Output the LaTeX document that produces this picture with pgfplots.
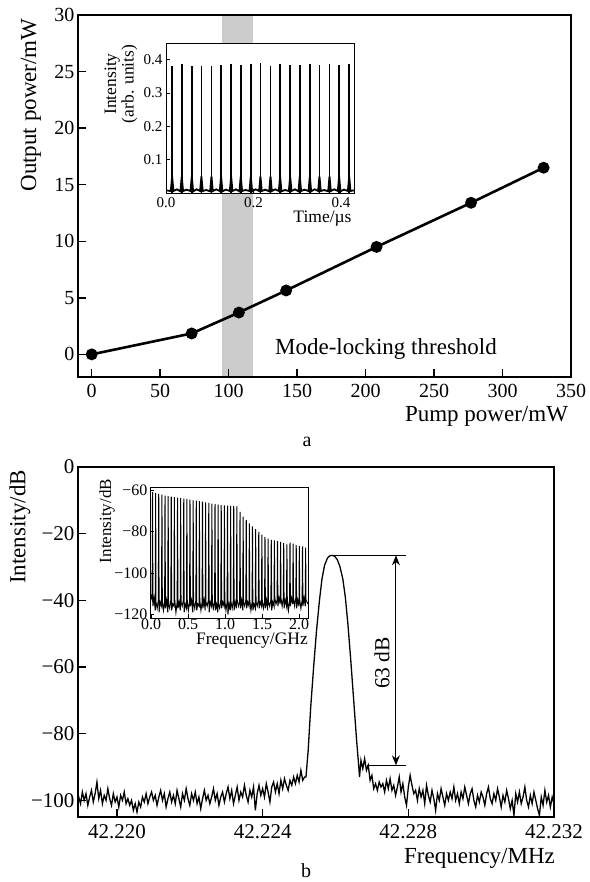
\documentclass[border=0pt]{standalone}
\usepackage{fontspec}
\setmainfont{Liberation Serif}
\usepackage{pgfplots}
\pgfplotsset{compat=1.18}
\usetikzlibrary{arrows.meta}

\newcommand{\fs}[1]{\fontsize{#1}{#1}\selectfont}

\pgfplotsset{
  panel/.style={scale only axis, anchor=south west, axis on top,
    axis line style={line width=1.4pt}, tick style={line width=1.4pt, black},
    tick align=inside, major tick length=8pt, xtick pos=bottom, ytick pos=left,
    /pgf/number format/assume math mode=true},
  inset/.style={scale only axis, anchor=south west,
    axis background/.style={fill=white},
    axis line style={line width=0.9pt}, tick style={line width=0.9pt, black},
    tick align=inside, major tick length=4pt, xtick pos=bottom, ytick pos=left,
    /pgf/number format/assume math mode=true},
}

\begin{document}
\begin{tikzpicture}[x=1pt,y=1pt]
\path[use as bounding box] (0,0) rectangle (589,-882);

% ---------- panel a ----------
\begin{axis}[panel, at={(78pt,-377pt)}, width=493pt, height=362pt,
  xmin=-10, xmax=350, ymin=-2, ymax=30,
  xtick={0,50,...,350}, ytick={0,5,...,30},
  tick label style={font=\fs{20}}, xticklabel style={yshift=-4pt}]
\addplot[draw=none, fill=black!20] coordinates {(95,-2) (118,-2) (118,30) (95,30)};
\addplot[black, line width=2.6pt, mark=*, mark size=4.6pt]
  coordinates {(0,0) (73,1.85) (107.5,3.7) (142,5.65) (208,9.5) (277,13.4) (330,16.5)};
\end{axis}

\begin{axis}[inset, at={(166pt,-193pt)}, width=188pt, height=150pt,
  xmin=0, xmax=0.43, ymin=0, ymax=0.45,
  xtick={0,0.2,0.4}, xticklabels={0.0,0.2,0.4},
  ytick={0.1,0.2,0.3,0.4}, yticklabels={0.1,0.2,0.3,0.4},
  tick label style={font=\fs{15}}, xticklabel style={yshift=-1pt}]
\addplot[ycomb, black, line width=1.6pt] coordinates {
  (0.014,0.382) (0.036,0.388) (0.059,0.382) (0.081,0.382) (0.104,0.380)
  (0.126,0.384) (0.149,0.387) (0.171,0.384) (0.194,0.387) (0.216,0.390)
  (0.239,0.380) (0.261,0.388) (0.284,0.384) (0.306,0.384) (0.329,0.386)
  (0.351,0.385) (0.374,0.388) (0.396,0.385) (0.419,0.387)};
\addplot[black, line width=1.8pt] coordinates {
  (0,0.008) (0.011,0.006) (0.014,0.05) (0.017,0.006) (0.025,0.011)
  (0.033,0.005) (0.036,0.05) (0.039,0.006) (0.047,0.010)
  (0.056,0.006) (0.059,0.05) (0.062,0.005) (0.070,0.011)
  (0.078,0.006) (0.081,0.05) (0.084,0.006) (0.092,0.009)
  (0.101,0.005) (0.104,0.05) (0.107,0.006) (0.115,0.011)
  (0.123,0.006) (0.126,0.05) (0.129,0.005) (0.137,0.010)
  (0.146,0.006) (0.149,0.05) (0.152,0.006) (0.160,0.011)
  (0.168,0.005) (0.171,0.05) (0.174,0.006) (0.182,0.009)
  (0.191,0.006) (0.194,0.05) (0.197,0.005) (0.205,0.011)
  (0.213,0.006) (0.216,0.05) (0.219,0.006) (0.227,0.010)
  (0.236,0.005) (0.239,0.05) (0.242,0.006) (0.250,0.011)
  (0.258,0.006) (0.261,0.05) (0.264,0.005) (0.272,0.009)
  (0.281,0.006) (0.284,0.05) (0.287,0.006) (0.295,0.011)
  (0.303,0.005) (0.306,0.05) (0.309,0.006) (0.317,0.010)
  (0.326,0.006) (0.329,0.05) (0.332,0.005) (0.340,0.011)
  (0.348,0.006) (0.351,0.05) (0.354,0.006) (0.362,0.009)
  (0.371,0.005) (0.374,0.05) (0.377,0.006) (0.385,0.011)
  (0.393,0.006) (0.396,0.05) (0.399,0.005) (0.407,0.010)
  (0.416,0.006) (0.419,0.05) (0.422,0.006) (0.43,0.008)};
\end{axis}

\node[font=\fs{23}, rotate=90] at (31,-105) {Output power/mW};
\node[font=\fs{23}] at (486.5,-416) {Pump power/mW};
\node[font=\fs{23}] at (386,-349) {Mode-locking threshold};
\node[font=\fs{17.5}, rotate=90, align=center] at (121,-84)
  {\fontsize{17.5}{15}\selectfont Intensity\\(arb. units)};
\node[font=\fs{17.5}, inner sep=1pt] at (322.5,-219) {Time/µs};
\node[font=\fs{20}] at (307,-442) {a};

% ---------- panel b ----------
\begin{axis}[panel, at={(78pt,-817pt)}, width=476pt, height=350pt,
  xmin=-1.07, xmax=12, ymin=-105, ymax=0,
  xtick={0,4,8,12}, xticklabels={42.220,42.224,42.228,42.232},
  ytick={-100,-80,-60,-40,-20,0}, yticklabels={−100,−80,−60,−40,−20,0},
  tick label style={font=\fs{21}}, xticklabel style={yshift=-4pt}]
\addplot[black, line width=1.3pt] coordinates {
  (-1.07,-98) (-1.05,-99) (-1.00,-101) (-0.95,-97.5) (-0.90,-100) (-0.85,-98)
  (-0.80,-101.5) (-0.75,-99) (-0.70,-97) (-0.65,-100.5) (-0.60,-98) (-0.55,-94.5)
  (-0.50,-99.5) (-0.45,-97) (-0.40,-101) (-0.35,-98.5) (-0.30,-100) (-0.25,-96.5)
  (-0.20,-99.5) (-0.15,-101.5) (-0.10,-98) (-0.05,-100.5) (0.00,-99) (0.05,-102)
  (0.10,-98.5) (0.15,-100) (0.20,-97.5) (0.25,-101) (0.30,-99.5) (0.35,-101.5)
  (0.40,-100) (0.45,-103) (0.50,-101) (0.55,-103.5) (0.60,-100.5) (0.65,-102)
  (0.70,-99) (0.75,-100.5) (0.80,-98) (0.85,-101) (0.90,-99) (0.95,-97.5)
  (1.00,-100) (1.05,-98.5) (1.10,-101.5) (1.15,-99) (1.20,-97) (1.25,-100)
  (1.30,-98) (1.35,-102) (1.40,-99.5) (1.45,-97.5) (1.50,-100.5) (1.55,-98.5)
  (1.60,-101) (1.65,-97) (1.70,-99.5) (1.75,-102) (1.80,-98) (1.85,-100)
  (1.90,-96.5) (1.95,-99.5) (2.00,-101.5) (2.05,-98) (2.10,-100) (2.15,-97.5)
  (2.20,-101) (2.25,-99) (2.30,-102.5) (2.35,-99.5) (2.40,-97) (2.45,-100)
  (2.50,-98.5) (2.55,-101) (2.60,-99) (2.65,-96.5) (2.70,-100) (2.75,-98)
  (2.80,-101.5) (2.85,-99) (2.90,-97.5) (2.95,-100.5) (3.00,-98) (3.05,-96)
  (3.10,-99.5) (3.15,-97) (3.20,-101) (3.25,-98.5) (3.30,-96) (3.35,-100)
  (3.40,-97.5) (3.45,-99) (3.50,-95.5) (3.55,-98.5) (3.60,-100.5) (3.65,-97)
  (3.70,-99) (3.75,-96) (3.80,-103) (3.85,-98) (3.90,-95.5) (3.95,-98.5)
  (4.00,-96.5) (4.05,-99) (4.10,-95) (4.15,-97.5) (4.20,-100.5) (4.25,-96)
  (4.30,-94.5) (4.35,-97.5) (4.40,-95) (4.45,-98) (4.50,-94) (4.55,-96.5)
  (4.60,-93.5) (4.65,-95.5) (4.70,-97) (4.75,-94) (4.80,-95.5) (4.85,-93)
  (4.90,-95) (4.95,-92.5) (5.00,-94.5) (5.05,-91) (5.10,-94) (5.15,-93)
  (5.19,-93) (5.25,-85) (5.32,-72) (5.40,-60) (5.48,-49) (5.56,-40)
  (5.63,-33.5) (5.70,-29.5) (5.78,-27.3) (5.85,-26.6) (5.91,-26.5) (5.98,-26.8)
  (6.05,-27.8) (6.12,-29.8) (6.20,-33.5) (6.27,-39) (6.34,-47) (6.42,-58)
  (6.50,-70) (6.58,-82) (6.64,-90) (6.66,-93)
  (6.70,-88) (6.75,-90.5) (6.80,-87.5) (6.85,-91) (6.90,-89.5) (6.95,-94)
  (7.00,-92.5) (7.05,-96.5) (7.10,-95) (7.15,-97) (7.20,-94.5) (7.25,-96)
  (7.30,-95) (7.35,-97.5) (7.40,-94) (7.45,-96.5) (7.50,-93.5) (7.55,-97)
  (7.60,-95.5) (7.65,-98.5) (7.70,-96) (7.75,-93) (7.80,-97.5) (7.85,-95)
  (7.90,-99) (7.95,-101.5) (8.00,-96) (8.05,-92.5) (8.10,-95.5) (8.15,-98)
  (8.20,-97) (8.25,-100) (8.30,-96.5) (8.35,-99) (8.40,-97) (8.45,-101)
  (8.50,-95.5) (8.55,-98.5) (8.60,-100.5) (8.65,-97) (8.70,-99.5) (8.75,-103)
  (8.80,-98) (8.85,-100) (8.90,-96.5) (8.95,-99) (9.00,-101.5) (9.05,-98)
  (9.10,-100) (9.15,-97.5) (9.20,-99.5) (9.25,-96) (9.30,-100) (9.35,-98)
  (9.40,-101) (9.45,-97.5) (9.50,-99.5) (9.55,-96) (9.60,-98.5) (9.65,-101)
  (9.70,-98) (9.75,-96.5) (9.80,-100) (9.85,-102) (9.90,-98.5) (9.95,-100.5)
  (10.00,-97.5) (10.05,-99) (10.10,-101.5) (10.15,-98) (10.20,-96) (10.25,-99.5)
  (10.30,-101) (10.35,-98) (10.40,-100) (10.45,-96.5) (10.50,-99) (10.55,-102)
  (10.60,-98.5) (10.65,-100.5) (10.70,-97) (10.75,-99.5) (10.80,-102.5) (10.85,-100)
  (10.90,-104.5) (10.95,-98) (11.00,-100.5) (11.05,-97.5) (11.10,-101) (11.15,-99)
  (11.20,-96) (11.25,-100) (11.30,-102) (11.35,-98.5) (11.40,-101) (11.45,-97.5)
  (11.50,-100) (11.55,-102.5) (11.60,-104.5) (11.65,-99) (11.70,-101.5) (11.75,-97)
  (11.80,-100.5) (11.85,-98.5) (11.90,-102) (11.95,-99) (12.00,-101)};
\draw[line width=0.9pt] (axis cs:5.91,-26.5) -- (axis cs:7.94,-26.5);
\draw[line width=0.9pt] (axis cs:6.87,-89.5) -- (axis cs:7.94,-89.5);
\draw[line width=0.9pt, {Stealth[length=10pt,width=8pt]}-{Stealth[length=10pt,width=8pt]}]
  (axis cs:7.66,-26.5) -- (axis cs:7.66,-89.5);
\end{axis}

\begin{axis}[inset, at={(150pt,-618pt)}, width=158pt, height=131pt,
  xmin=-0.014, xmax=2.12, ymin=-121.7, ymax=-58.5,
  xtick={0,0.5,1,1.5,2}, xticklabels={0.0,0.5,1.0,1.5,2.0},
  ytick={-120,-100,-80,-60}, yticklabels={−120,−100,−80,−60},
  tick label style={font=\fs{16}}, xticklabel style={yshift=3pt},
  yticklabel style={xshift=1pt}]
\addplot[black, line width=1pt] coordinates {
  (-0.014,-109) (0.005,-112)
  (0.015,-113)(0.020,-61.0)(0.025,-116)(0.041,-112)
  (0.057,-118)(0.062,-61.3)(0.067,-114)(0.083,-117)
  (0.099,-113)(0.104,-61.8)(0.109,-119)(0.125,-114)
  (0.142,-116)(0.147,-62.2)(0.152,-113)(0.168,-118)
  (0.184,-114)(0.189,-62.6)(0.194,-117)(0.210,-113)
  (0.226,-119)(0.231,-62.9)(0.236,-115)(0.252,-117)
  (0.268,-113)(0.273,-63.2)(0.278,-118)(0.294,-115)
  (0.310,-116)(0.315,-63.4)(0.320,-113)(0.336,-119)
  (0.353,-114)(0.358,-63.6)(0.363,-117)(0.379,-114)
  (0.395,-118)(0.400,-63.9)(0.405,-114)(0.421,-116)
  (0.437,-113)(0.442,-64.1)(0.447,-119)(0.463,-115)
  (0.479,-117)(0.484,-64.4)(0.489,-113)(0.505,-118)
  (0.521,-114)(0.526,-64.6)(0.531,-116)(0.547,-113)
  (0.564,-119)(0.569,-64.9)(0.574,-114)(0.590,-117)
  (0.606,-113)(0.611,-65.1)(0.616,-118)(0.632,-115)
  (0.648,-116)(0.653,-65.3)(0.658,-113)(0.674,-118)
  (0.690,-114)(0.695,-65.6)(0.700,-117)(0.716,-113)
  (0.732,-118)(0.737,-65.9)(0.742,-114)(0.758,-116)
  (0.775,-113)(0.780,-66.2)(0.785,-119)(0.801,-114)
  (0.817,-116)(0.822,-66.5)(0.827,-113)(0.843,-117)
  (0.859,-114)(0.864,-66.8)(0.869,-118)(0.885,-115)
  (0.901,-119)(0.906,-67.0)(0.911,-115)(0.927,-117)
  (0.943,-113)(0.948,-67.2)(0.953,-117)(0.969,-114)
  (0.986,-116)(0.991,-67.4)(0.996,-113)(1.012,-118)
  (1.028,-114)(1.033,-67.5)(1.038,-120)(1.054,-115)
  (1.070,-118)(1.075,-67.6)(1.080,-114)(1.096,-117)
  (1.112,-113)(1.117,-67.7)(1.122,-118)(1.138,-114)
  (1.154,-117)(1.159,-67.9)(1.164,-113)(1.180,-116)
  (1.197,-114)(1.202,-70.5)(1.207,-117)(1.223,-113)
  (1.239,-118)(1.244,-72.8)(1.249,-114)(1.265,-116)
  (1.281,-113)(1.286,-74.5)(1.291,-117)(1.307,-114)
  (1.323,-116)(1.328,-76.0)(1.333,-113)(1.349,-118)
  (1.365,-114)(1.370,-77.5)(1.375,-118)(1.391,-115)
  (1.408,-117)(1.413,-78.8)(1.418,-114)(1.434,-116)
  (1.450,-113)(1.455,-80.2)(1.460,-117)(1.476,-114)
  (1.492,-116)(1.497,-81.5)(1.502,-113)(1.518,-117)
  (1.534,-114)(1.539,-82.6)(1.544,-117)(1.560,-113)
  (1.576,-118)(1.581,-83.4)(1.586,-114)(1.602,-116)
  (1.619,-113)(1.624,-84.0)(1.629,-118)(1.645,-114)
  (1.661,-116)(1.666,-84.3)(1.671,-112)(1.687,-115)
  (1.703,-113)(1.708,-84.6)(1.713,-116)(1.729,-112)
  (1.745,-115)(1.750,-85.0)(1.755,-112)(1.771,-116)
  (1.787,-112)(1.792,-85.6)(1.797,-117)(1.813,-113)
  (1.830,-116)(1.835,-86.2)(1.840,-113)(1.856,-118)
  (1.872,-113)(1.877,-85.3)(1.882,-116)(1.898,-112)
  (1.914,-115)(1.919,-85.8)(1.924,-112)(1.940,-116)
  (1.956,-112)(1.961,-86.6)(1.966,-117)(1.982,-113)
  (1.998,-116)(2.003,-87.0)(2.008,-113)(2.024,-117)
  (2.041,-113)(2.046,-87.2)(2.051,-116)(2.067,-112)
  (2.083,-116)(2.088,-87.8)(2.093,-113)(2.12,-115)};
\end{axis}

\node[font=\fs{23}, rotate=90] at (20,-527) {Intensity/dB};
\node[font=\fs{23}] at (479.5,-858) {Frequency/MHz};
\node[font=\fs{17}, rotate=90] at (107,-521) {Intensity/dB};
\node[font=\fs{17.5}, inner sep=1pt] at (252,-641) {Frequency/GHz};
\node[font=\fs{21.5}, rotate=90] at (382,-663) {63 dB};
\node[font=\fs{20}, inner sep=0pt, anchor=south] at (306,-878) {b};
\end{tikzpicture}
\end{document}
